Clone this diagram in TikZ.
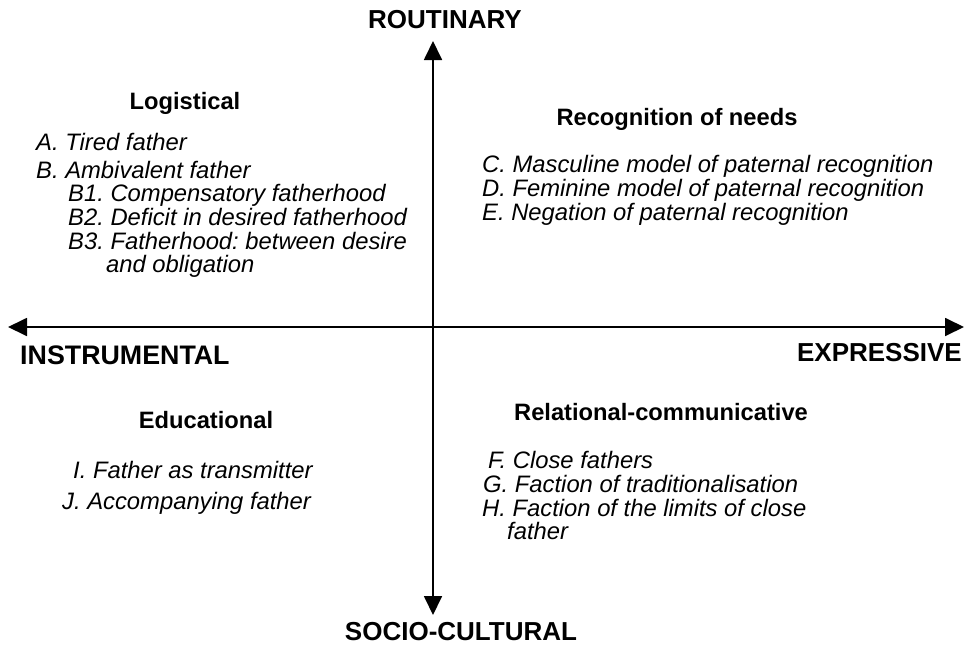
\documentclass[tikz,border=0pt]{standalone}
\usepackage{fontspec}
\setmainfont{Liberation Sans}
\usetikzlibrary{arrows.meta,positioning}

\tikzset{
    axis/.style={line width=1.8pt, {Triangle[length=19pt,width=18pt]}-{Triangle[length=19pt,width=18pt]}},
    axislabel/.style={font=\fontsize{26}{30}\selectfont\bfseries, inner sep=0pt, anchor=base},
    head/.style={font=\fontsize{23.7}{28}\selectfont\bfseries, inner sep=0pt, anchor=base},
    item/.style={font=\fontsize{23.8}{28}\selectfont\itshape, inner sep=0pt, anchor=base west}
}
\frenchspacing

\begin{document}
\begin{tikzpicture}[x=1pt, y=-1pt]
    \useasboundingbox (0, 0) rectangle (965, 645);
    % axes
    \coordinate (top) at (433, 41);
    \coordinate (bot) at (433, 615);
    \coordinate (lft) at (8, 327);
    \coordinate (rgt) at (964, 327);
    \draw[axis] (top) -- (bot);
    \draw[axis] (lft) -- (rgt);
    \node[axislabel] (rout) at (445, 28) {ROUTINARY};
    \node[axislabel] (soc) at (461, 640) {SOCIO-CULTURAL};
    \node[axislabel, anchor=base west, font=\fontsize{26.8}{30}\selectfont\bfseries] (instr) at (20, 364) {INSTRUMENTAL};
    \node[axislabel, anchor=base east] (expr) at (962, 361) {EXPRESSIVE};
    % logistical
    \node[head] (logi) at (185, 109) {Logistical};
    \node[item] (la) at (36, 150) {A. Tired father};
    \node[item] (lb) at (36, 178) {B. Ambivalent father};
    \node[item] (lb1) at (68, 201) {B1. Compensatory fatherhood};
    \node[item] (lb2) at (68, 225) {B2. Deficit in desired fatherhood};
    \node[item] (lb3) at (68, 249) {B3. Fatherhood: between desire};
    \node[item] (lb3b) at (106, 272) {and obligation};
    % recognition
    \node[head] (recog) at (677, 125) {Recognition of needs};
    \node[item] (rc) at (482, 172) {C. Masculine model of paternal recognition};
    \node[item] (rd) at (482, 196) {D. Feminine model of paternal recognition};
    \node[item] (re) at (482, 220) {E. Negation of paternal recognition};
    % educational
    \node[head] (educ) at (206, 428) {Educational};
    \node[item] (ei) at (73, 478) {I. Father as transmitter};
    \node[item] (ej) at (62, 509) {J. Accompanying father};
    % relational
    \node[head] (relc) at (661, 420) {Relational-communicative};
    \node[item] (rf) at (488, 468) {F. Close fathers};
    \node[item] (rg) at (483, 492) {G. Faction of traditionalisation};
    \node[item] (rh) at (482, 516) {H. Faction of the limits of close};
    \node[item] (rh2) at (507, 539) {father};
\end{tikzpicture}
\end{document}
